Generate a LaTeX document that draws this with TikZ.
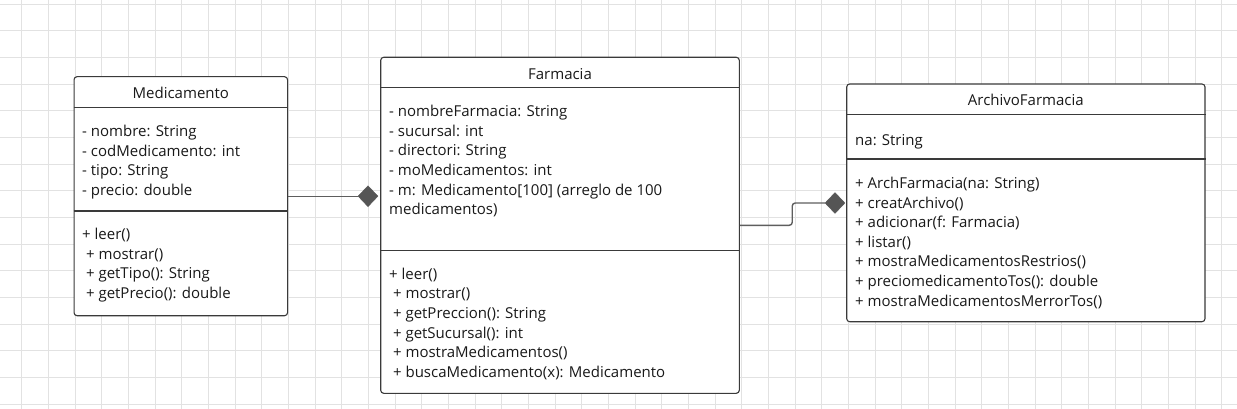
\documentclass[tikz,border=0pt]{standalone}
\usepackage{fontspec}
\setmainfont{Open Sans}
\usetikzlibrary{shapes.geometric}
\definecolor{gridc}{HTML}{E2E2E2}
\definecolor{boxc}{HTML}{3A3A3A}
\definecolor{linec}{HTML}{5E5E5E}
\definecolor{diac}{HTML}{555555}
\begin{document}
\begin{tikzpicture}[x=1pt,y=-1pt,
  classbox/.style={draw=boxc,line width=1.1pt,rounded corners=3pt,fill=white,inner sep=0pt},
  divider/.style={draw=boxc,line width=1.1pt},
  txt/.style={anchor=north west,inner sep=0pt,align=left,yshift=10.8pt,
    font=\fontsize{15}{19.6}\selectfont,text=black!90,execute at begin node=\strut},
  ttl/.style={anchor=base,inner sep=0pt,font=\fontsize{15}{19.6}\selectfont,text=black!90},
  conn/.style={draw=linec,line width=1.4pt,rounded corners=3pt},
  dia/.style={diamond,fill=diac,draw=diac,inner sep=0pt,minimum width=20pt,minimum height=21pt}
]
\useasboundingbox (0,0) rectangle (1237,409);
\fill[white] (0,0) rectangle (1237,409);
% grid
\foreach \i in {0,...,46} {\draw[gridc,line width=0.8pt] ({21.7+26.67*\i},0) -- ({21.7+26.67*\i},409);}
\foreach \j in {0,...,15} {\draw[gridc,line width=0.8pt] (0,{4+26.67*\j}) -- (1237,{4+26.67*\j});}

% Medicamento
\node[classbox,minimum width=213.5pt,minimum height=239pt] (med) at (180.8,196.2) {};
\draw[divider] (med.west |- 0,107.3) -- (med.east |- 0,107.3);
\draw[divider] (med.west |- 0,211) -- (med.east |- 0,211);
\node[ttl] (medt) at (180.8,99) {Medicamento};
\node[txt] (meda) at (82,136) {- nombre: String\\- codMedicamento: int\\- tipo: String\\- precio: double};
\node[txt] (medm) at (82,239) {+ leer()\\\ + mostrar()\\\ + getTipo(): String\\\ + getPrecio(): double};

% Farmacia
\node[classbox,minimum width=358.6pt,minimum height=336pt] (farm) at (560,225.3) {};
\draw[divider] (farm.west |- 0,87.3) -- (farm.east |- 0,87.3);
\draw[divider] (farm.west |- 0,250.7) -- (farm.east |- 0,250.7);
\node[ttl] (farmt) at (560,79.8) {Farmacia};
\node[txt] (farma) at (389,116) {- nombreFarmacia: String\\- sucursal: int\\- directori: String\\- moMedicamentos: int\\- m: Medicamento[100] (arreglo de 100\\medicamentos)};
\node[txt] (farmm) at (389,278.5) {+ leer()\\\ + mostrar()\\\ + getPreccion(): String\\\ + getSucursal(): int\\\ + mostraMedicamentos()\\\ + buscaMedicamento(x): Medicamento};

% ArchivoFarmacia
\node[classbox,minimum width=358.3pt,minimum height=237.7pt] (arch) at (1025.85,202.85) {};
\draw[divider] (arch.west |- 0,114.3) -- (arch.east |- 0,114.3);
\draw[divider] (arch.west |- 0,159) -- (arch.east |- 0,159);
\node[ttl] (archt) at (1025.85,105.8) {ArchivoFarmacia};
\node[txt] (archa) at (855,142.7) {na: String};
\node[txt] (archm) at (855,187.7) {+ ArchFarmacia(na: String)\\+ creatArchivo()\\+ adicionar(f: Farmacia)\\+ listar()\\+ mostraMedicamentosRestrios()\\+ preciomedicamentoTos(): double\\+ mostraMedicamentosMerrorTos()};

% connectors
\node[dia] (d1) at (368,196.2) {};
\node[dia] (d2) at (835,203) {};
\draw[conn] (med.east) -- (d1.west);
\draw[conn] (farm.east) -- ++(52.4,0) |- (d2.west);
\end{tikzpicture}
\end{document}
